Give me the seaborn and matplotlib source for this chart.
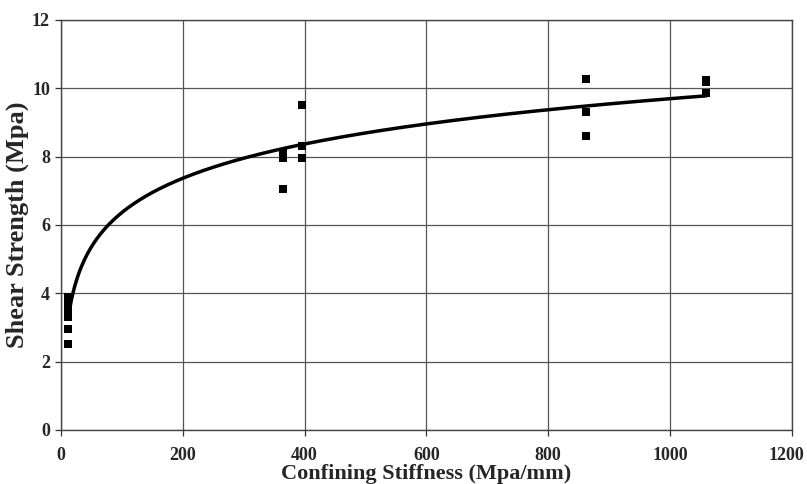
import numpy as np
import pandas as pd
import matplotlib
matplotlib.use("Agg")
import matplotlib.pyplot as plt
import matplotlib.transforms as mtransforms
import seaborn as sns

# Data
stiffness = [12, 12, 12, 12, 12, 12, 12,
             365, 365, 365, 395, 395, 395,
             863, 863, 863, 1060, 1060, 1060]
strength = [3.9, 3.7, 3.55, 3.4, 3.3, 2.95, 2.52,
            8.1, 7.95, 7.05, 9.5, 8.3, 7.95,
            10.26, 9.32, 8.61, 10.25, 10.18, 9.85]
x_ticks = [0, 200, 400, 600, 800, 1000, 1200]
y_ticks = [0, 2, 4, 6, 8, 10, 12]

df = pd.DataFrame({"x": stiffness, "y": strength})

# Logarithmic trend line fitted to the data
coef = np.polyfit(np.log(df["x"]), df["y"], 1)
xs = np.linspace(min(stiffness), max(stiffness), 400)
trend = pd.DataFrame({"x": xs, "y": coef[0] * np.log(xs) + coef[1]})

sns.set_theme(style="white")
plt.rcParams["font.family"] = ["Liberation Serif", "DejaVu Serif"]
plt.rcParams["font.weight"] = "bold"

fig = plt.figure(figsize=(8.07, 4.84), dpi=100)
ax = fig.add_axes([0.0756, 0.1116, 0.9054, 0.8471])

ax.grid(True, color="#555555", linewidth=0.9)
ax.set_axisbelow(True)

sns.lineplot(data=trend, x="x", y="y", ax=ax, color="black", linewidth=2.5, zorder=3)
sns.scatterplot(data=df, x="x", y="y", ax=ax, marker="s", s=32, color="black",
                edgecolor="black", linewidth=0, zorder=4)

ax.set_xlim(0, 1200)
ax.set_ylim(0, 12)
ax.set_xticks(x_ticks)
ax.set_yticks(y_ticks)
ax.set_xticklabels([str(t) for t in x_ticks], fontsize=13, fontweight="bold")
ax.set_yticklabels([str(t) for t in y_ticks], fontsize=13, fontweight="bold")
ax.tick_params(axis="both", direction="out", length=4, width=0.9, color="#333333",
               bottom=True, left=True)
ax.tick_params(axis="x", pad=8)
ax.tick_params(axis="y", pad=4)

# keep the last x tick label inside the figure
last = ax.get_xticklabels()[-1]
last.set_transform(last.get_transform() +
                   mtransforms.ScaledTranslation(-5 / 100, 0, fig.dpi_scale_trans))

for s in ax.spines.values():
    s.set_color("#444444")
    s.set_linewidth(1.0)

ax.set_xlabel("Confining Stiffness (Mpa/mm)", fontsize=16, fontweight="bold", labelpad=0)
ax.set_ylabel("Shear Strength (Mpa)", fontsize=19, fontweight="bold", labelpad=2)

fig.savefig("out.png", dpi=100)
